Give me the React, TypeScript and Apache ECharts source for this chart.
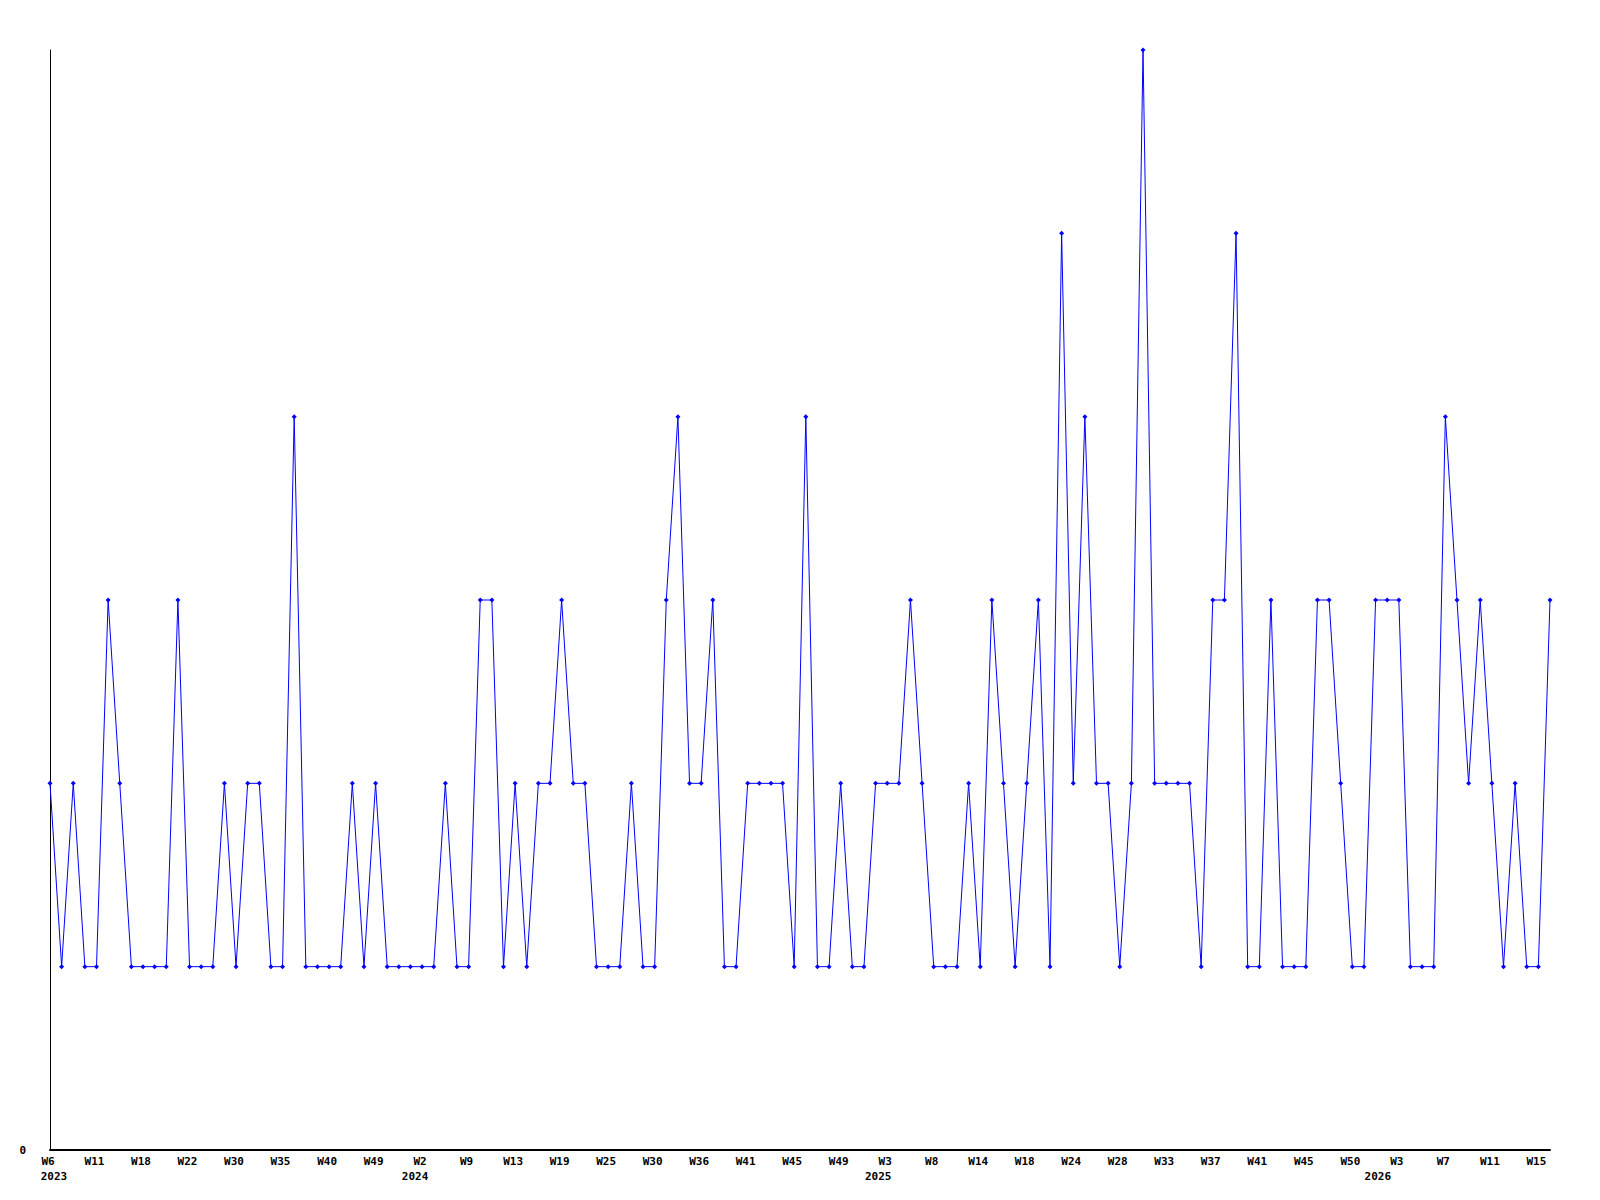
import React, { useEffect, useRef } from "react";
import * as echarts from "echarts";

// Values per point (130 points, weekly buckets)
const values: number[] = [
  2, 1, 2, 1, 1, 3, 2, 1, 1, 1,
  1, 3, 1, 1, 1, 2, 1, 2, 2, 1,
  1, 4, 1, 1, 1, 1, 2, 1, 2, 1,
  1, 1, 1, 1, 2, 1, 1, 3, 3, 1,
  2, 1, 2, 2, 3, 2, 2, 1, 1, 1,
  2, 1, 1, 3, 4, 2, 2, 3, 1, 1,
  2, 2, 2, 2, 1, 4, 1, 1, 2, 1,
  1, 2, 2, 2, 3, 2, 1, 1, 1, 2,
  1, 3, 2, 1, 2, 3, 1, 5, 2, 4,
  2, 2, 1, 2, 6, 2, 2, 2, 2, 1,
  3, 3, 5, 1, 1, 3, 1, 1, 1, 3,
  3, 2, 1, 1, 3, 3, 3, 1, 1, 1,
  4, 3, 2, 3, 2, 1, 2, 1, 1, 3,
];

// Tick labels shown every 4th point
const tickLabels: string[] = [
  "W6\n2023", "W11", "W18", "W22", "W30", "W35", "W40", "W49",
  "W2\n2024", "W9", "W13", "W19", "W25", "W30", "W36", "W41", "W45", "W49",
  "W3\n2025", "W8", "W14", "W18", "W24", "W28", "W33", "W37", "W41", "W45", "W50",
  "W3\n2026", "W7", "W11", "W15",
];

const tickStep = 4;

// horizontal placement tweak of the year line (style only)
const yearPadding: Record<string, number[]> = {
  "2023": [0, 0, 0, 8],
  "2024": [0, 14, 0, 0],
  "2025": [0, 18, 0, 0],
  "2026": [0, 42, 0, 0],
};

const categories: string[] = values.map((_, i) =>
  i % tickStep === 0 ? tickLabels[i / tickStep] ?? "" : ""
);

export default function App() {
  const ref = useRef<HTMLDivElement>(null);
  useEffect(() => {
    if (!ref.current) return;
    const chart = echarts.init(ref.current, undefined, { renderer: "svg" });
    const font = "DejaVu Sans Mono";
    const base = {
      color: "#000000",
      fontFamily: font,
      fontWeight: "bold" as const,
      fontSize: 11,
      lineHeight: 15,
    };
    const rich: Record<string, any> = { w: { ...base, padding: [0, 4, 0, 0] } };
    Object.keys(yearPadding).forEach((y) => {
      rich["y" + y] = { ...base, padding: yearPadding[y] };
    });
    chart.setOption({
      animation: false,
      backgroundColor: "#ffffff",
      grid: { left: 50, right: 50, top: 50, bottom: 50, containLabel: false },
      xAxis: {
        type: "category",
        data: categories,
        boundaryGap: false,
        axisLine: { show: true, lineStyle: { color: "#000000", width: 2 } },
        axisTick: { show: false },
        splitLine: { show: false },
        axisLabel: {
          interval: tickStep - 1,
          ...base,
          margin: 4,
          formatter: (v: string) => {
            if (!v) return "";
            const parts = v.split("\n");
            let s = `{w|${parts[0]}}`;
            if (parts[1]) s += `\n{y${parts[1]}|${parts[1]}}`;
            return s;
          },
          rich,
        },
      },
      yAxis: {
        type: "value",
        min: 0,
        max: 6,
        interval: 6,
        axisLine: { show: true, lineStyle: { color: "#000000", width: 1 } },
        axisTick: { show: false },
        splitLine: { show: false },
        axisLabel: {
          color: "#000000",
          fontFamily: font,
          fontWeight: "bold",
          fontSize: 11,
          margin: 24,
          formatter: (v: number) => (v === 0 ? "0" : ""),
        },
      },
      series: [
        {
          type: "line",
          data: values,
          symbol: "diamond",
          symbolSize: 5,
          showAllSymbol: true,
          lineStyle: { color: "#0000ff", width: 1 },
          itemStyle: { color: "#0000ff" },
        },
      ],
    });
    return () => chart.dispose();
  }, []);
  return (
    <div
      ref={ref}
      style={{ position: "absolute", left: 0, top: 0, width: 1600, height: 1200 }}
    />
  );
}
